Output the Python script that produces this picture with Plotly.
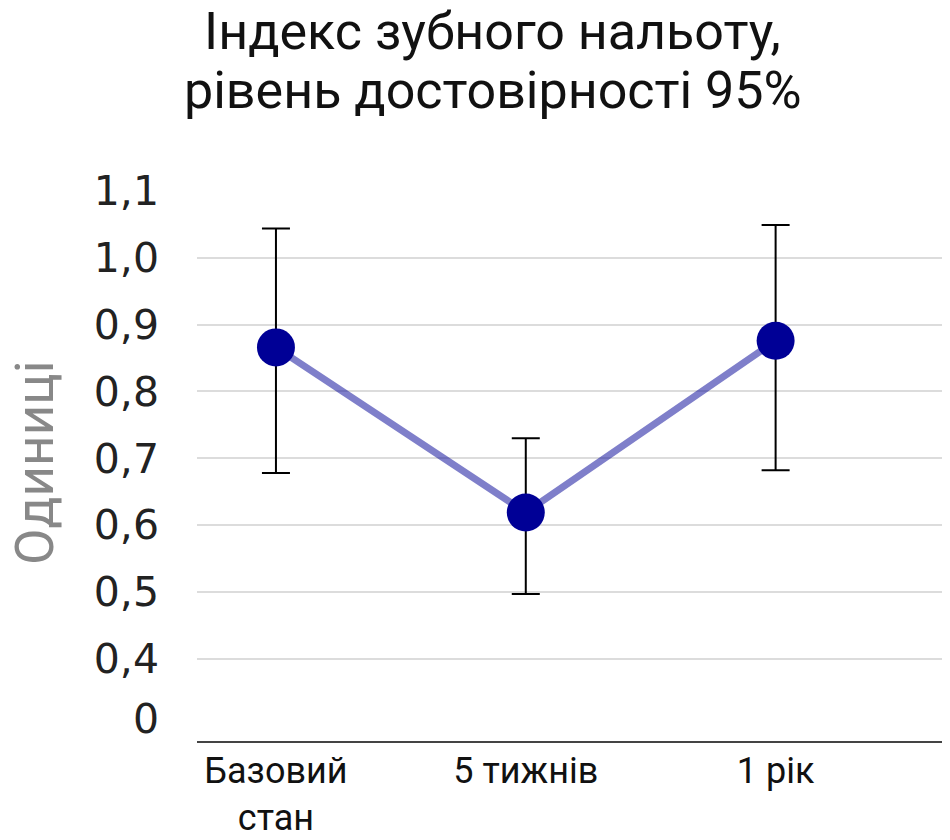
import plotly.graph_objects as go

title_lines = ["Індекс зубного нальоту,", "рівень достовірності 95%"]
y_title = "Одиниці"
categories = ["Базовий<br>стан", "5 тижнів", "1 рік"]
means = [0.866, 0.619, 0.876]
upper = [1.044, 0.730, 1.049]
lower = [0.678, 0.497, 0.682]
tick_vals = [0.4, 0.5, 0.6, 0.7, 0.8, 0.9, 1.0, 1.1]
tick_text = ["0,4", "0,5", "0,6", "0,7", "0,8", "0,9", "1,0", "1,1"]
zero_pos = [0.31]
zero_text = ["0"]

x_idx = list(range(len(categories)))
err_plus = [u - m for u, m in zip(upper, means)]
err_minus = [m - l for m, l in zip(means, lower)]

fig = go.Figure()
fig.add_trace(go.Scatter(
    x=x_idx, y=means, mode="lines",
    line=dict(color="rgba(0,0,150,0.5)", width=7),
    hoverinfo="skip", showlegend=False,
))
fig.add_trace(go.Scatter(
    x=x_idx, y=means, mode="markers",
    marker=dict(color="#000096", size=38),
    error_y=dict(type="data", symmetric=False, array=err_plus, arrayminus=err_minus,
                 color="black", thickness=2, width=14),
    showlegend=False,
))
fig.add_trace(go.Scatter(x=[0], y=zero_pos, yaxis="y2", mode="markers",
                         marker=dict(opacity=0), showlegend=False, hoverinfo="skip"))

title_font = dict(family="Roboto", size=52, color="#111")
fig.add_annotation(text=title_lines[0], xref="paper", yref="paper",
                   x=0.394, y=1.29, xanchor="center", yanchor="middle",
                   showarrow=False, font=title_font)
fig.add_annotation(text=title_lines[1], xref="paper", yref="paper",
                   x=0.394, y=1.183, xanchor="center", yanchor="middle",
                   showarrow=False, font=title_font)
fig.add_annotation(text=y_title, xref="paper", yref="paper",
                   x=-0.216, y=0.507, xanchor="center", yanchor="middle",
                   textangle=-90, showarrow=False,
                   font=dict(family="Roboto", size=53, color="#888"))

yr = [0.277, 1.1]
tick_font = dict(family="DejaVu Sans", size=41, color="#222")
fig.update_layout(
    width=942, height=832,
    paper_bgcolor="white", plot_bgcolor="white",
    margin=dict(l=189, r=2, t=183, b=99),
    xaxis=dict(tickmode="array", tickvals=x_idx, ticktext=categories,
               range=[-0.316, 2.69], showgrid=False, zeroline=False,
               showline=True, linecolor="#444", linewidth=2,
               tickfont=dict(family="Roboto", size=36, color="#111"),
               ticks="", ticklabelstandoff=-3, automargin=False),
    yaxis=dict(tickmode="array", tickvals=tick_vals, ticktext=tick_text,
               range=yr, showgrid=True, gridcolor="#dcdcdc", gridwidth=2,
               zeroline=False, showline=False, ticks="",
               tickfont=tick_font, ticklabelstandoff=37, automargin=False),
    yaxis2=dict(overlaying="y", side="left", range=yr, tickmode="array",
                tickvals=zero_pos, ticktext=zero_text, showgrid=False,
                zeroline=False, showline=False, ticks="",
                tickfont=tick_font, ticklabelstandoff=37, automargin=False),
)

fig.write_html("out.html")
